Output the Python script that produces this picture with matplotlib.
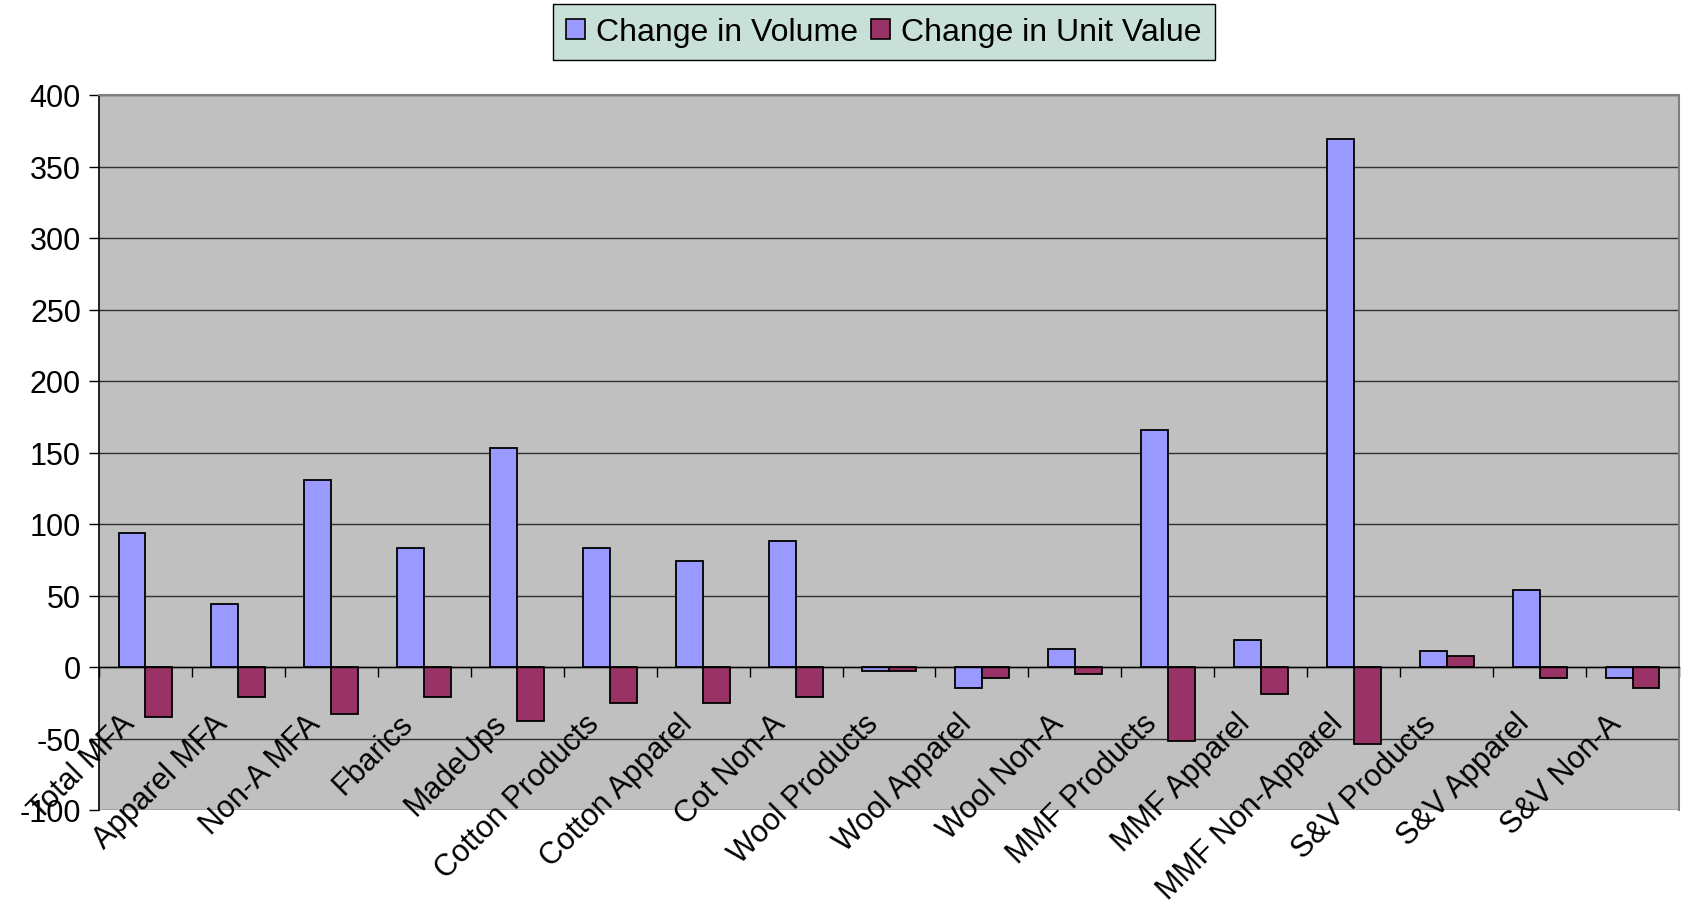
import numpy as np
import matplotlib
matplotlib.use('Agg')
import matplotlib.pyplot as plt
from matplotlib.transforms import offset_copy
from matplotlib.patches import Patch

plt.rcParams['font.family'] = ['Liberation Sans', 'DejaVu Sans']
plt.rcParams['axes.unicode_minus'] = False

categories = ['Total MFA', 'Apparel MFA', 'Non-A MFA', 'Fbarics', 'MadeUps',
              'Cotton Products', 'Cotton Apparel', 'Cot Non-A', 'Wool Products',
              'Wool Apparel', 'Wool Non-A', 'MMF Products', 'MMF Apparel',
              'MMF Non-Apparel', 'S&V Products', 'S&V Apparel', 'S&V Non-A']
volume = [94, 44, 131, 83, 153, 83, 74, 88, -3, -14.5, 12.5, 165.5, 19, 369, 11, 53.5, -8]
unit_value = [-35, -21, -33, -21, -38, -25, -25, -21, -2.5, -8, -5, -52, -19, -54, 8, -8, -14.5]
yticks = list(range(-100, 401, 50))

vol_color = '#9999FF'
uv_color = '#993366'

fig = plt.figure(figsize=(16.82, 9.03), dpi=100)
ax = fig.add_axes([99 / 1682, 1 - 811 / 903, 1580 / 1682, 715 / 903])
ax.set_facecolor('#C0C0C0')

x = np.arange(len(categories))
w = 0.29
ax.bar(x - w / 2, volume, w, color=vol_color, edgecolor='black', linewidth=1.3, zorder=3)
ax.bar(x + w / 2, unit_value, w, color=uv_color, edgecolor='black', linewidth=1.3, zorder=3)

ax.set_xlim(-0.5, len(categories) - 0.5)
ax.set_ylim(-100, 400)
ax.set_yticks(yticks)
ax.yaxis.grid(True, color='#303030', linewidth=1.0, zorder=1)
ax.tick_params(axis='y', labelsize=22, length=7, width=1, direction='out', pad=6)

# category axis sits on zero, ticks between categories
ax.spines['bottom'].set_position(('data', 0))
ax.spines['bottom'].set_linewidth(1.0)
ax.spines['bottom'].set_zorder(4)
ax.set_xticks(np.arange(len(categories) + 1) - 0.5)
ax.set_xticklabels([])
ax.tick_params(axis='x', length=7, width=1, direction='out')
ax.spines['left'].set_linewidth(1.2)
for s in ['top', 'right']:
    ax.spines[s].set_color('#808080')
    ax.spines[s].set_linewidth(1.5)

tr = offset_copy(ax.transData, fig=fig, x=-26, y=-41, units='dots')
for i, lab in enumerate(categories):
    ax.text(i, 0, lab, transform=tr, rotation=45, ha='right', va='top',
            rotation_mode='anchor', fontsize=22, zorder=5)

handles = [Patch(facecolor=vol_color, edgecolor='black', linewidth=1.2),
           Patch(facecolor=uv_color, edgecolor='black', linewidth=1.2)]
leg = fig.legend(handles, ['Change in Volume', 'Change in Unit Value'],
                 loc='center', bbox_to_anchor=(884 / 1682, 1 - 33 / 903), ncol=2,
                 fontsize=23, frameon=True, fancybox=False, facecolor='#C8E0D8',
                 edgecolor='black', handlelength=0.6, handleheight=0.6,
                 handletextpad=0.35, columnspacing=0.4, borderpad=0.4, borderaxespad=0)
leg.get_frame().set_linewidth(1.0)
leg.get_frame().set_alpha(1)

fig.savefig('out.png', dpi=100)
